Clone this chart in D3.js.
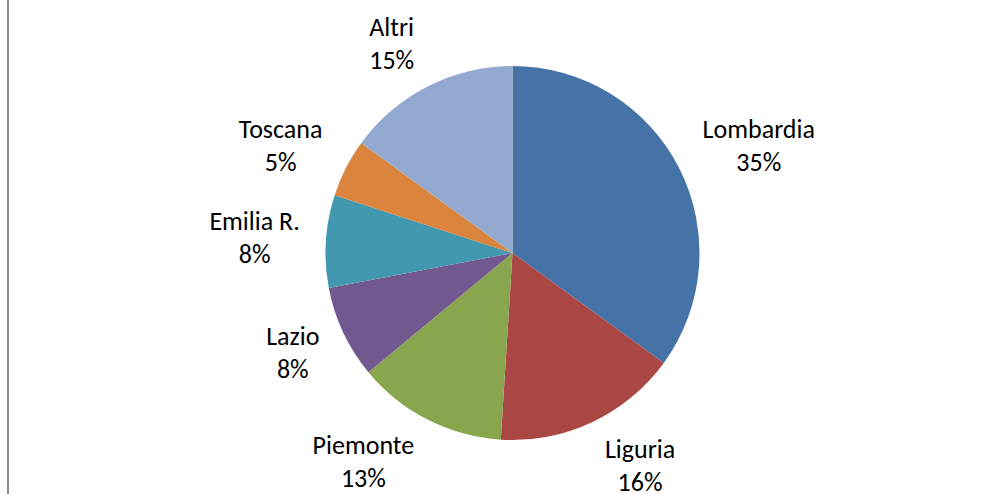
<!DOCTYPE html>
<html>
<head>
<meta charset="utf-8">
<script src="https://cdn.jsdelivr.net/npm/d3@7"></script>
<style>
  body { margin: 0; background: #fff; }
  text { font-family: Carlito, "Open Sans", sans-serif; font-size: 26px; fill: #000; }
</style>
</head>
<body>
<div id="chart"></div>
<script>
const regions = ["Lombardia", "Liguria", "Piemonte", "Lazio", "Emilia R.", "Toscana", "Altri"];
const shares = [35, 16, 13, 8, 8, 5, 15];
const colors = ["#4572A7", "#AA4643", "#89A54E", "#71588F", "#4198AF", "#DB843D", "#93A9CF"];

const w = 1003, h = 494;
const cx = 512.5, cy = 253, r = 187;
const labelR = 210;

const svg = d3.select("#chart").append("svg")
  .attr("width", w)
  .attr("height", h);

// frame line on the left
svg.append("line")
  .attr("x1", 8).attr("x2", 8)
  .attr("y1", 0).attr("y2", h)
  .attr("stroke", "#8c8c8c")
  .attr("stroke-width", 2);

const data = regions.map((d, i) => ({ name: d, value: shares[i], color: colors[i] }));

const pie = d3.pie().sort(null).value(d => d.value);
const arc = d3.arc().innerRadius(0).outerRadius(r);

const g = svg.append("g").attr("transform", `translate(${cx}, ${cy})`);
const arcs = pie(data);

g.selectAll("path")
  .data(arcs)
  .join("path")
  .attr("d", arc)
  .attr("fill", d => d.data.color);

const labels = g.selectAll("text.lbl")
  .data(arcs)
  .join("text")
  .classed("lbl", true)
  .attr("text-anchor", "middle");

labels.append("tspan")
  .attr("x", 0)
  .attr("y", -8)
  .text(d => d.data.name);
labels.append("tspan")
  .attr("x", 0)
  .attr("y", 25)
  .text(d => d.data.value + "%");

// excel-like outside-end placement: anchor on a ring, box pushed outward
labels.attr("transform", function (d) {
  const bw = Math.max(...Array.from(this.querySelectorAll("tspan"), t => t.getComputedTextLength()));
  const bh = 50;
  const a = (d.startAngle + d.endAngle) / 2;
  const s = Math.sin(a), c = Math.cos(a);
  const k = Math.max(-1, Math.min(1, 3 * s));
  const x = labelR * s + (bw / 2 + 3) * k;
  const y = -labelR * c - (bh / 2) * c;
  return `translate(${x}, ${y})`;
});
</script>
</body>
</html>
